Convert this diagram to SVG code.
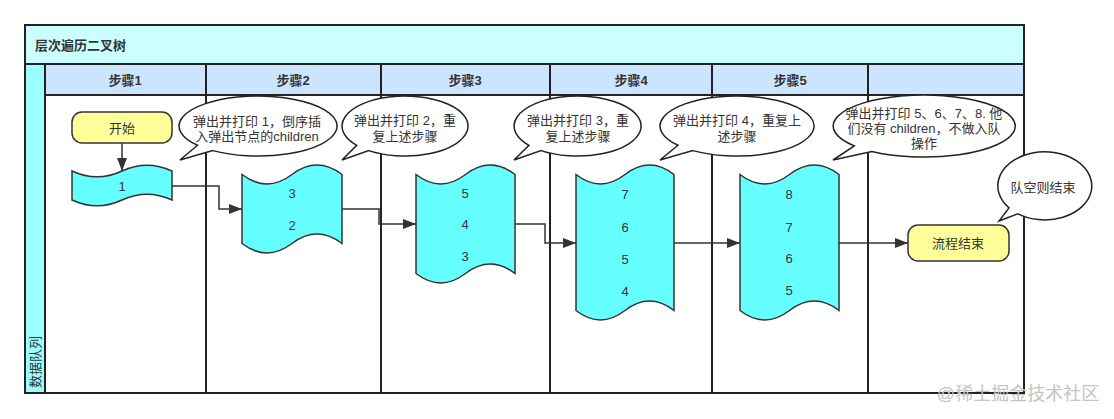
<svg xmlns="http://www.w3.org/2000/svg" width="1114" height="419" viewBox="0 0 1114 419">
<style>
text{font-family:"Liberation Sans","Noto Sans CJK SC",sans-serif;font-size:13px;fill:#333;}
.c{text-anchor:middle;dominant-baseline:central;}
.b{font-weight:bold;}
.grid{stroke:#222;stroke-width:2;fill:none;}
.tape{fill:#66ffff;stroke:#333;stroke-width:1.5;}
.term{fill:#ffff99;stroke:#333;stroke-width:1.5;}
.bub{fill:#fff;stroke:#222;stroke-width:1.5;}
.edge{fill:none;stroke:#333;stroke-width:1.5;marker-end:url(#arr);}
</style>
<defs>
<marker id="arr" markerWidth="13" markerHeight="10" refX="13" refY="5" orient="auto" markerUnits="userSpaceOnUse">
<path d="M0,0 L13,5 L0,10 Z" fill="#333"/>
</marker>
</defs>
<g id="pool">
<rect x="25" y="25" width="999" height="39" fill="#ccffff"/>
<rect x="45" y="64" width="979" height="31" fill="#cce5ff"/>
<rect x="25" y="64" width="20" height="329" fill="#99ffff"/>
<rect x="45" y="95" width="979" height="298" fill="#fff"/>
<rect class="grid" x="25" y="25" width="999" height="368"/>
<path class="grid" d="M25,64 H1024 M45,95 H1024 M45,64 V393 M206,64 V393 M381,64 V393 M550,64 V393 M712,64 V393 M868,64 V393"/>
<text x="35" y="45" class="b" dominant-baseline="central">层次遍历二叉树</text>
<text x="125" y="80" class="c b">步骤1</text>
<text x="293" y="80" class="c b">步骤2</text>
<text x="465" y="80" class="c b">步骤3</text>
<text x="631" y="80" class="c b">步骤4</text>
<text x="790" y="80" class="c b">步骤5</text>
<text x="35" y="362" class="c" transform="rotate(-90 35 362)">数据队列</text>
</g>
<g id="start">
<rect class="term" x="72" y="112" width="100" height="31" rx="10"/>
<text x="122" y="128" class="c">开始</text>
</g>
<g id="q1">
<path class="tape" d="M72,171 Q97,182.7 122,171 Q147,159.3 172,171 L172,200 Q147,188.3 122,200 Q97,211.7 72,200 Z"/>
<text x="122" y="186" class="c">1</text>
</g>
<g id="q2">
<path class="tape" d="M242,174.5 Q267,193.4 292,174.5 Q317,155.6 342,174.5 L342,243.5 Q317,224.6 292,243.5 Q267,262.4 242,243.5 Z"/>
<text x="292" y="193" class="c">3</text>
<text x="292" y="225" class="c">2</text>
</g>
<g id="q3">
<path class="tape" d="M416,174.5 Q440.75,193.4 465.5,174.5 Q490.25,155.6 515,174.5 L515,273.5 Q490.25,254.6 465.5,273.5 Q440.75,292.4 416,273.5 Z"/>
<text x="465" y="193" class="c">5</text>
<text x="465" y="224" class="c">4</text>
<text x="465" y="256" class="c">3</text>
</g>
<g id="q4">
<path class="tape" d="M576,174.5 Q600.5,193.4 625,174.5 Q649.5,155.6 674,174.5 L674,310.5 Q649.5,291.6 625,310.5 Q600.5,329.4 576,310.5 Z"/>
<text x="625" y="194" class="c">7</text>
<text x="625" y="227" class="c">6</text>
<text x="625" y="259" class="c">5</text>
<text x="625" y="291" class="c">4</text>
</g>
<g id="q5">
<path class="tape" d="M740,174.5 Q764.75,193.4 789.5,174.5 Q814.25,155.6 839,174.5 L839,310.5 Q814.25,291.6 789.5,310.5 Q764.75,329.4 740,310.5 Z"/>
<text x="789" y="194" class="c">8</text>
<text x="789" y="227" class="c">7</text>
<text x="789" y="258" class="c">6</text>
<text x="789" y="290" class="c">5</text>
</g>
<g id="end">
<rect class="term" x="908" y="225" width="101" height="36" rx="10"/>
<text x="958" y="243" class="c">流程结束</text>
</g>
<g id="connectors">
<path class="edge" d="M122,143 L122,171"/>
<path class="edge" d="M172,186 L219,186 L219,209 L242,209"/>
<path class="edge" d="M342,209 L379,209 L379,224 L416,224"/>
<path class="edge" d="M515,224 L545,224 L545,243 L576,243"/>
<path class="edge" d="M674,243 L740,243"/>
<path class="edge" d="M839,243 L908,243"/>
</g>
<g id="note1">
<path class="bub" d="M197.5,145.3 A79,30 0 1 1 212.7,150.6 L180,160 Z"/>
<text x="257" y="121" class="c">弹出并打印 1，倒序插</text>
<text x="257" y="136" class="c">入弹出节点的children</text>
</g>
<g id="note2">
<path class="bub" d="M356.7,145.3 A63,30 0 1 1 368.8,150.6 L342,160 Z"/>
<text x="405" y="120" class="c">弹出并打印 2，重</text>
<text x="405" y="136" class="c">复上述步骤</text>
</g>
<g id="note3">
<path class="bub" d="M528.9,145.3 A63.5,30 0 1 1 541.1,150.6 L514,160 Z"/>
<text x="578" y="120" class="c">弹出并打印 3，重</text>
<text x="578" y="136" class="c">复上述步骤</text>
</g>
<g id="note4">
<path class="bub" d="M678,145.3 A77,30 0 1 1 692.8,150.6 L660,160 Z"/>
<text x="737" y="120" class="c">弹出并打印 4，重复上</text>
<text x="737" y="136" class="c">述步骤</text>
</g>
<g id="note5">
<path class="bub" d="M854.3,145.9 A91,31 0 1 1 871.8,151.4 L833,160 Z"/>
<text x="924" y="113" class="c">弹出并打印 5、6、7、8. 他</text>
<text x="924" y="128" class="c">们没有 children，不做入队</text>
<text x="924" y="143" class="c">操作</text>
</g>
<g id="note6">
<path class="bub" d="M1009,207.9 A47,34 0 1 1 1018,213.8 L999,221 Z"/>
<text x="1043" y="187" class="c">队空则结束</text>
</g>
<text x="1018" y="394" class="c" style="font-size:18px;fill:#c4c4c4;">@稀土掘金技术社区</text>
</svg>
